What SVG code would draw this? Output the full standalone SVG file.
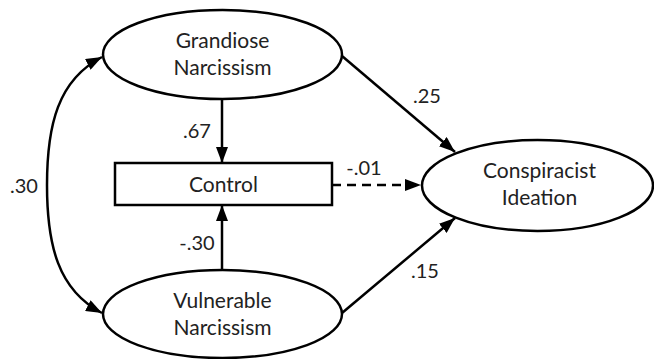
<svg xmlns="http://www.w3.org/2000/svg" width="654" height="359" viewBox="0 0 654 359">
<style>
.shape{fill:#fff;stroke:#000;stroke-width:2.5}
.edge{fill:none;stroke:#000;stroke-width:2.5}
.dash{stroke-dasharray:9 6}
text{font-family:Lato,"Open Sans","Liberation Sans",sans-serif;font-size:21px;fill:#222;text-anchor:middle}
.lbl{font-size:20px}
</style>
<defs>
<marker id="ah" viewBox="0 0 16 12" refX="16" refY="6" markerWidth="16" markerHeight="12" markerUnits="userSpaceOnUse" orient="auto-start-reverse">
<path d="M0,0 L16,6 L0,12 z" fill="#000"/>
</marker>
</defs>
<rect width="654" height="359" fill="#fff"/>
<g id="connectors">
<path class="edge" d="M47,185 C47,125 58,80 102,57" marker-end="url(#ah)"/>
<path class="edge" d="M47,185 C47,245 58,290 102,313" marker-end="url(#ah)"/>
<line class="edge" x1="222" y1="99" x2="222" y2="163" marker-end="url(#ah)"/>
<line class="edge" x1="222" y1="270" x2="222" y2="205" marker-end="url(#ah)"/>
<line class="edge" x1="342" y1="56" x2="455" y2="152" marker-end="url(#ah)"/>
<line class="edge" x1="342" y1="313" x2="455" y2="218" marker-end="url(#ah)"/>
<line class="edge dash" x1="332" y1="185" x2="421" y2="185" marker-end="url(#ah)"/>
<text class="lbl" x="24" y="193">.30</text>
<text class="lbl" x="197" y="138">.67</text>
<text class="lbl" x="197" y="250">-.30</text>
<text class="lbl" x="427" y="103">.25</text>
<text class="lbl" x="364" y="175">-.01</text>
<text class="lbl" x="425" y="278">.15</text>
</g>
<g id="grandiose">
<ellipse class="shape" cx="222.5" cy="54.5" rx="119.5" ry="44.5"/>
<text x="222.5" y="48">Grandiose</text>
<text x="222.5" y="75">Narcissism</text>
</g>
<g id="vulnerable">
<ellipse class="shape" cx="222.5" cy="314" rx="119.5" ry="44"/>
<text x="222.5" y="308">Vulnerable</text>
<text x="222.5" y="335">Narcissism</text>
</g>
<g id="control">
<rect class="shape" x="115" y="163" width="217" height="42"/>
<text x="223.5" y="192">Control</text>
</g>
<g id="conspiracist">
<ellipse class="shape" cx="537.5" cy="185.5" rx="115.5" ry="45.5"/>
<text x="539.5" y="178">Conspiracist</text>
<text x="539.5" y="205">Ideation</text>
</g>
</svg>
